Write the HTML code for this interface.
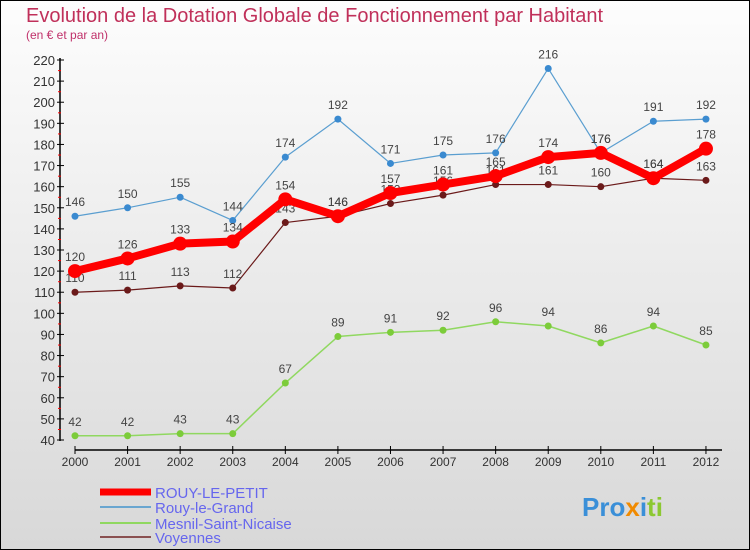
<!DOCTYPE html>
<html><head><meta charset="utf-8">
<style>
body{margin:0;}
svg{display:block;font-family:"Liberation Sans",sans-serif;}
</style></head>
<body>
<svg width="750" height="550">
<defs><linearGradient id="bg" x1="0" y1="0" x2="0" y2="1"><stop offset="0" stop-color="#fdfdfd"/><stop offset="1" stop-color="#d8d8d8"/></linearGradient></defs>
<rect x="0.5" y="0.5" width="749" height="549" fill="url(#bg)" stroke="#000"/>
<text x="26" y="22" font-size="20" fill="#c0305a">Evolution de la Dotation Globale de Fonctionnement par Habitant</text>
<text x="26" y="39" font-size="12" fill="#c0306a">(en € et par an)</text>
<g id="axes"></g>
<g id="series"></g>
<g id="legend"></g>
<text x="582" y="516" font-size="26" font-weight="bold"><tspan fill="#3a8fd8">Pro</tspan><tspan fill="#f08a00">x</tspan><tspan fill="#3a8fd8">i</tspan><tspan fill="#8cc832">ti</tspan></text>
</svg>
<script>
const years=[2000,2001,2002,2003,2004,2005,2006,2007,2008,2009,2010,2011,2012];
const rouyPetit=[120,126,133,134,154,146,157,161,165,174,176,164,178];
const rouyGrand=[146,150,155,144,174,192,171,175,176,216,176,191,192];
const mesnil=[42,42,43,43,67,89,91,92,96,94,86,94,85];
const voyennes=[110,111,113,112,143,146,152,156,161,161,160,164,163];
const yTicks=[40,50,60,70,80,90,100,110,120,130,140,150,160,170,180,190,200,210,220];
const NS="http://www.w3.org/2000/svg";
function X(i){return 75+i*52.58;}
function Y(v){return 440-(v-40)*380/180;}
function mk(p,tag,at){const e=document.createElementNS(NS,tag);for(const k in at)e.setAttribute(k,at[k]);p.appendChild(e);return e;}
const ax=document.getElementById('axes');
mk(ax,'line',{x1:60,y1:58,x2:60,y2:441,stroke:'#000','stroke-width':1.5});
mk(ax,'line',{x1:75,y1:450,x2:722,y2:450,stroke:'#000','stroke-width':1.5});
yTicks.forEach(v=>{
 const y=Y(v);
 mk(ax,'line',{x1:57,y1:y,x2:64,y2:y,stroke:'#000'});
 if(v<220)mk(ax,'line',{x1:58,y1:y-10.5,x2:61,y2:y-10.5,stroke:'#f00'});
 const t=mk(ax,'text',{x:55,y:y+5,'text-anchor':'end','font-size':13,fill:'#333'});
 t.textContent=v;
 
 
});
years.forEach((yr,i)=>{
 mk(ax,'line',{x1:X(i),y1:446,x2:X(i),y2:454,stroke:'#000'});
 const t=mk(ax,'text',{x:X(i),y:466,'text-anchor':'middle','font-size':12,fill:'#333'});
 t.textContent=yr;
 
 
});
const sg=document.getElementById('series');
const defs=[
 {d:voyennes,c:'#6b1a1a',w:1.2,r:3.5,f:'#6b1a1a',n:'voyennes'},
 {d:mesnil,c:'#90d860',w:1.5,r:3.5,f:'#7ccc3a',n:'mesnil-saint-nicaise'},
 {d:rouyGrand,c:'#5a9ed0',w:1.2,r:3.5,f:'#3a8ad0',n:'rouy-le-grand'},
 {d:rouyPetit,c:'#f00',w:8,r:7,f:'#f00',n:'rouy-le-petit'}
];
defs.forEach(s=>{
 const g=mk(sg,'g',{});
 
 
 const pts=s.d.map((v,i)=>X(i)+','+Y(v)).join(' ');
 mk(g,'polyline',{points:pts,fill:'none',stroke:s.c,'stroke-width':s.w,'stroke-linejoin':'round'});
 s.d.forEach((v,i)=>{
  const c=mk(g,'circle',{cx:X(i),cy:Y(v),r:s.r,fill:s.f});
  
  
  const t=mk(g,'text',{x:X(i),y:Y(v)-10,'text-anchor':'middle','font-size':12,fill:'#444'});
  t.textContent=v;
  
  
 });
});
const lg=document.getElementById('legend');
const leg=[['ROUY-LE-PETIT','#f00',7,492],['Rouy-le-Grand','#6aa6d0',2,507],['Mesnil-Saint-Nicaise','#90d860',2,523],['Voyennes','#8a5050',2,537]];
leg.forEach(l=>{
 const g=mk(lg,'g',{});
 
 
 mk(g,'line',{x1:100,y1:l[3],x2:151,y2:l[3],stroke:l[1],'stroke-width':l[2]});
 const t=mk(g,'text',{x:155,y:l[3]+6,'font-size':15,fill:'#6666ee'});
 t.textContent=l[0];
});
</script>
</body></html>
